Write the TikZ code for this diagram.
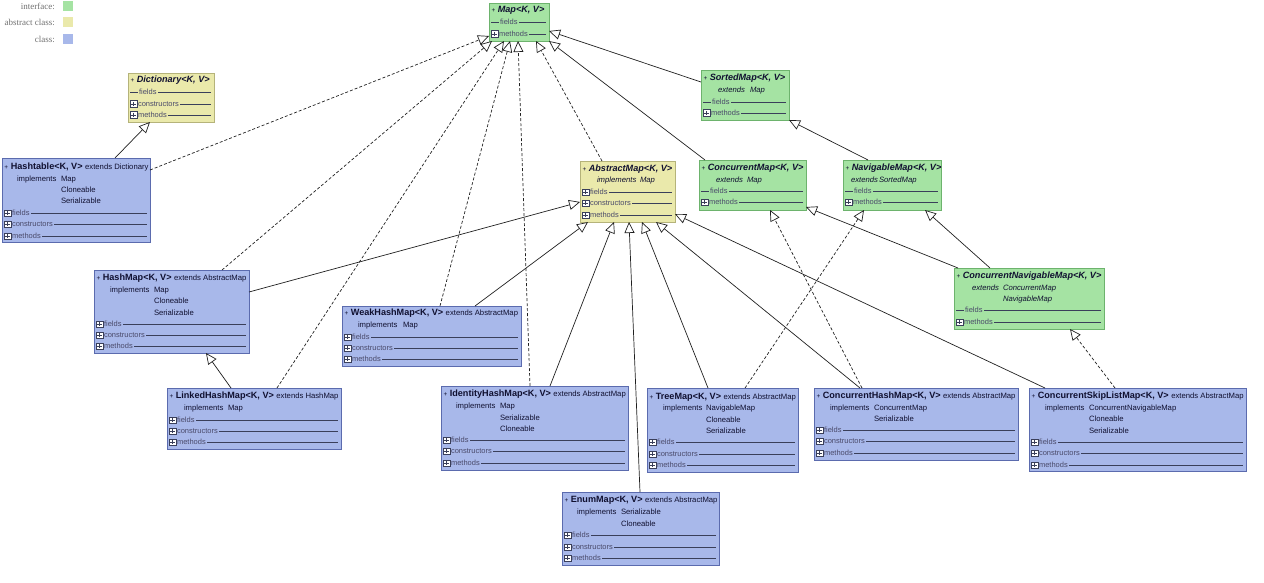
\documentclass[tikz,border=0pt]{standalone}
\usepackage{fontspec}
\setmainfont{Liberation Sans}
\newfontfamily\legfont{Liberation Serif}
\usetikzlibrary{arrows.meta,calc}

\definecolor{ifill}{HTML}{A5E3A3}
\definecolor{idraw}{HTML}{6DB36D}
\definecolor{afill}{HTML}{EAE9AB}
\definecolor{adraw}{HTML}{B5B37A}
\definecolor{cfill}{HTML}{A8B8EA}
\definecolor{cdraw}{HTML}{5B6BAE}
\definecolor{txt}{HTML}{101030}
\definecolor{rowtxt}{HTML}{4A4A6A}
\definecolor{rowln}{HTML}{3A3F5A}
\definecolor{conn}{HTML}{202020}
\definecolor{legtxt}{HTML}{707070}

\tikzset{
 box/.style={draw, line width=0.8pt, inner sep=0pt, outer sep=0pt, anchor=north west},
 iface/.style={box, fill=ifill, draw=idraw},
 abst/.style={box, fill=afill, draw=adraw},
 klass/.style={box, fill=cfill, draw=cdraw},
 txtnode/.style={inner sep=0pt, outer sep=0pt, anchor=west, text height=5.8pt, text depth=1.7pt, text=txt},
 title/.style={txtnode, font=\fontsize{9.1}{10}\selectfont},
 detail/.style={txtnode, font=\fontsize{7.7}{9}\selectfont},
 idetail/.style={txtnode, font=\fontsize{7.7}{9}\selectfont\itshape},
 rowlbl/.style={txtnode, font=\fontsize{7.5}{9}\selectfont, text=rowtxt},
 rowline/.style={draw=rowln, line width=0.6pt},
 plusbox/.style={draw=rowln, fill=white, line width=0.5pt, minimum size=6.5pt, inner sep=0pt, outer sep=0pt,
   path picture={\draw[rowln, line width=0.5pt] ([xshift=1.2pt]path picture bounding box.west) -- ([xshift=-1.2pt]path picture bounding box.east)
     ([yshift=-1.2pt]path picture bounding box.north) -- ([yshift=1.2pt]path picture bounding box.south);}},
 ext/.style={draw=conn, line width=0.7pt, -{Triangle[length=11pt,width=10pt,fill=white,line width=0.7pt]}},
 impl/.style={ext, dash pattern=on 3pt off 2pt},
 legend/.style={inner sep=0pt, anchor=east, text=legtxt, font=\legfont\fontsize{9}{10}\selectfont},
 legsq/.style={inner sep=0pt, minimum size=10pt},
}

\newcommand\umlbox[6]{\node[#6, minimum width={(#4-#2)*1pt}, minimum height={(#5-#3)*1pt}] (#1) at (#2,#3) {};}
\newcommand\ititle[3]{\node[title] (#1-t) at ($(#1.west |- 0,#2)+(2.5,0)$) {{\fontsize{6.5}{7}\selectfont+}\ \textbf{\textit{#3}}};}
\newcommand\ctitle[4]{\node[title] (#1-t) at ($(#1.west |- 0,#2)+(2.5,0)$) {{\fontsize{6.5}{7}\selectfont+}\ \textbf{#3}\ {\fontsize{7.7}{9}\selectfont #4}};}
\newcommand\prow[4]{%
  \node[plusbox] (#1-#2p) at ($(#1.west |- 0,#3)+(5.5,0)$) {};
  \node[rowlbl] (#1-#2) at ($(#1-#2p.east)+(1.3,0)$) {#4};
  \draw[rowline] ($(#1-#2.east)+(1.5,0)$) -- ($(#1.east |- #1-#2.east)+(-3,0)$);}
\newcommand\frow[4]{%
  \node[rowlbl] (#1-#2) at ($(#1.west |- 0,#3)+(11,0)$) {#4};
  \draw[rowline] ($(#1.west |- 0,#3)+(2,0)$) -- ($(#1-#2.west)+(-1.5,0)$);
  \draw[rowline] ($(#1-#2.east)+(1.5,0)$) -- ($(#1.east |- #1-#2.east)+(-3,0)$);}

\begin{document}
\begin{tikzpicture}[x=1pt,y=-1pt]
\useasboundingbox (0,0) rectangle (1264,583);

% legend
\node[legend] (lg1) at (55,6) {interface:};
\node[legend] (lg2) at (55,22) {abstract class:};
\node[legend] (lg3) at (55,39) {class:};
\node[legsq, fill=ifill] (lq1) at (68,6) {};
\node[legsq, fill=afill] (lq2) at (68,22) {};
\node[legsq, fill=cfill] (lq3) at (68,39) {};

% ---------- boxes ----------
\umlbox{map}{489}{3}{549}{41}{iface}
\ititle{map}{10}{Map<K, V>}
\frow{map}{f}{22}{fields}
\prow{map}{m}{34}{methods}

\umlbox{dict}{128}{73}{214}{122}{abst}
\ititle{dict}{80}{Dictionary<K, V>}
\frow{dict}{f}{92}{fields}
\prow{dict}{c}{104}{constructors}
\prow{dict}{m}{115}{methods}

\umlbox{ht}{2}{158}{150}{242}{klass}
\ctitle{ht}{167}{Hashtable<K, V>}{extends Dictionary}
\node[detail] (ht-k) at (17,179) {implements};
\node[detail] (ht-v1) at (61,179) {Map};
\node[detail] (ht-v2) at (61,190) {Cloneable};
\node[detail] (ht-v3) at (61,201) {Serializable};
\prow{ht}{f}{213}{fields}
\prow{ht}{c}{224}{constructors}
\prow{ht}{m}{236}{methods}

\umlbox{sm}{701}{70}{789}{120}{iface}
\ititle{sm}{78}{SortedMap<K, V>}
\node[idetail] (sm-k) at (718,90) {extends};
\node[idetail] (sm-v1) at (750,90) {Map};
\frow{sm}{f}{102}{fields}
\prow{sm}{m}{113}{methods}

\umlbox{am}{580}{161}{675}{222}{abst}
\ititle{am}{169}{AbstractMap<K, V>}
\node[idetail] (am-k) at (597,180) {implements};
\node[idetail] (am-v1) at (640,180) {Map};
\prow{am}{f}{192}{fields}
\prow{am}{c}{203}{constructors}
\prow{am}{m}{215}{methods}

\umlbox{cm}{699}{160}{806}{210}{iface}
\ititle{cm}{168}{ConcurrentMap<K, V>}
\node[idetail] (cm-k) at (716,180) {extends};
\node[idetail] (cm-v1) at (747,180) {Map};
\frow{cm}{f}{191}{fields}
\prow{cm}{m}{202}{methods}

\umlbox{nm}{843}{160}{941}{210}{iface}
\ititle{nm}{168}{NavigableMap<K, V>}
\node[idetail] (nm-k) at (851,180) {extends};
\node[idetail] (nm-v1) at (879,180) {SortedMap};
\frow{nm}{f}{191}{fields}
\prow{nm}{m}{202}{methods}

\umlbox{cnm}{954}{268}{1104}{329}{iface}
\ititle{cnm}{276}{ConcurrentNavigableMap<K, V>}
\node[idetail] (cnm-k) at (972,288) {extends};
\node[idetail] (cnm-v1) at (1003,288) {ConcurrentMap};
\node[idetail] (cnm-v2) at (1003,299) {NavigableMap};
\frow{cnm}{f}{310}{fields}
\prow{cnm}{m}{322}{methods}

\umlbox{hm}{94}{270}{249}{353}{klass}
\ctitle{hm}{278}{HashMap<K, V>}{extends AbstractMap}
\node[detail] (hm-k) at (110,290) {implements};
\node[detail] (hm-v1) at (154,290) {Map};
\node[detail] (hm-v2) at (154,301) {Cloneable};
\node[detail] (hm-v3) at (154,313) {Serializable};
\prow{hm}{f}{324}{fields}
\prow{hm}{c}{335}{constructors}
\prow{hm}{m}{346}{methods}

\umlbox{whm}{342}{306}{521}{366}{klass}
\ctitle{whm}{313}{WeakHashMap<K, V>}{extends AbstractMap}
\node[detail] (whm-k) at (358,325) {implements};
\node[detail] (whm-v1) at (403,325) {Map};
\prow{whm}{f}{337}{fields}
\prow{whm}{c}{348}{constructors}
\prow{whm}{m}{359}{methods}

\umlbox{lhm}{167}{388}{341}{449}{klass}
\ctitle{lhm}{396}{LinkedHashMap<K, V>}{extends HashMap}
\node[detail] (lhm-k) at (184,408) {implements};
\node[detail] (lhm-v1) at (228,408) {Map};
\prow{lhm}{f}{420}{fields}
\prow{lhm}{c}{431}{constructors}
\prow{lhm}{m}{442}{methods}

\umlbox{ihm}{441}{386}{628}{470}{klass}
\ctitle{ihm}{394}{IdentityHashMap<K, V>}{extends AbstractMap}
\node[detail] (ihm-k) at (456,406) {implements};
\node[detail] (ihm-v1) at (500,406) {Map};
\node[detail] (ihm-v2) at (500,418) {Serializable};
\node[detail] (ihm-v3) at (500,429) {Cloneable};
\prow{ihm}{f}{440}{fields}
\prow{ihm}{c}{451}{constructors}
\prow{ihm}{m}{463}{methods}

\umlbox{tm}{647}{388}{798}{472}{klass}
\ctitle{tm}{397}{TreeMap<K, V>}{extends AbstractMap}
\node[detail] (tm-k) at (663,408) {implements};
\node[detail] (tm-v1) at (706,408) {NavigableMap};
\node[detail] (tm-v2) at (706,420) {Cloneable};
\node[detail] (tm-v3) at (706,431) {Serializable};
\prow{tm}{f}{442}{fields}
\prow{tm}{c}{454}{constructors}
\prow{tm}{m}{465}{methods}

\umlbox{chm}{814}{388}{1018}{460}{klass}
\ctitle{chm}{396}{ConcurrentHashMap<K, V>}{extends AbstractMap}
\node[detail] (chm-k) at (830,408) {implements};
\node[detail] (chm-v1) at (874,408) {ConcurrentMap};
\node[detail] (chm-v2) at (874,419) {Serializable};
\prow{chm}{f}{430}{fields}
\prow{chm}{c}{441}{constructors}
\prow{chm}{m}{453}{methods}

\umlbox{cslm}{1029}{388}{1246}{471}{klass}
\ctitle{cslm}{396}{ConcurrentSkipListMap<K, V>}{extends AbstractMap}
\node[detail] (cslm-k) at (1045,408) {implements};
\node[detail] (cslm-v1) at (1089,408) {ConcurrentNavigableMap};
\node[detail] (cslm-v2) at (1089,419) {Cloneable};
\node[detail] (cslm-v3) at (1089,431) {Serializable};
\prow{cslm}{f}{442}{fields}
\prow{cslm}{c}{453}{constructors}
\prow{cslm}{m}{465}{methods}

\umlbox{em}{562}{492}{719}{565}{klass}
\ctitle{em}{500}{EnumMap<K, V>}{extends AbstractMap}
\node[detail] (em-k) at (577,512) {implements};
\node[detail] (em-v1) at (621,512) {Serializable};
\node[detail] (em-v2) at (621,524) {Cloneable};
\prow{em}{f}{535}{fields}
\prow{em}{c}{547}{constructors}
\prow{em}{m}{558}{methods}

% ---------- connectors ----------
\draw[ext]  ($(ht.north west)+(113,0)$) -- ($(dict.south west)+(22,0)$);
\draw[impl] ($(ht.north east)+(0,12)$) -- ($(map.south west)+(0,-5)$);
\draw[impl] ($(hm.north west)+(128,0)$) -- ($(map.south west)+(3,0)$);
\draw[impl] ($(lhm.north west)+(110,0)$) -- ($(map.south west)+(15,0)$);
\draw[impl] ($(whm.north west)+(98,0)$) -- ($(map.south west)+(21,0)$);
\draw[impl] ($(ihm.north west)+(89,0)$) -- ($(map.south west)+(29,0)$);
\draw[impl] ($(am.north west)+(22,0)$) -- ($(map.south west)+(47,0)$);
\draw[ext]  ($(cm.north west)+(6,0)$) -- ($(map.south east)+(0,0)$);
\draw[ext]  ($(sm.north west)+(0,12)$) -- ($(map.north east)+(0,28)$);
\draw[ext]  ($(nm.north west)+(25,0)$) -- (sm.south east);
\draw[ext]  ($(cnm.north west)+(4,0)$) -- ($(cm.south east)+(0,-3)$);
\draw[ext]  ($(cnm.north west)+(36,0)$) -- ($(nm.south east)+(-16,0)$);
\draw[ext]  ($(hm.north east)+(0,22)$) -- ($(am.south west)+(0,-20)$);
\draw[ext]  ($(whm.north west)+(133,0)$) -- ($(am.south west)+(8,0)$);
\draw[ext]  ($(lhm.north west)+(64,0)$) -- ($(hm.south west)+(112,0)$);
\draw[ext]  ($(ihm.north west)+(109,0)$) -- ($(am.south west)+(34,0)$);
\draw[ext]  ($(em.north west)+(78,0)$) -- ($(am.south west)+(49,0)$);
\draw[ext]  ($(tm.north west)+(61,0)$) -- ($(am.south west)+(62,0)$);
\draw[ext]  ($(chm.north west)+(46,0)$) -- ($(am.south west)+(76,0)$);
\draw[ext]  ($(cslm.north west)+(16,0)$) -- ($(am.south east)+(0,-8)$);
\draw[impl] ($(tm.north west)+(98,0)$) -- ($(nm.south west)+(21,0)$);
\draw[impl] ($(chm.north west)+(48,0)$) -- ($(cm.south west)+(71,0)$);
\draw[impl] ($(cslm.north west)+(86,0)$) -- ($(cnm.south west)+(116,0)$);
\end{tikzpicture}
\end{document}
